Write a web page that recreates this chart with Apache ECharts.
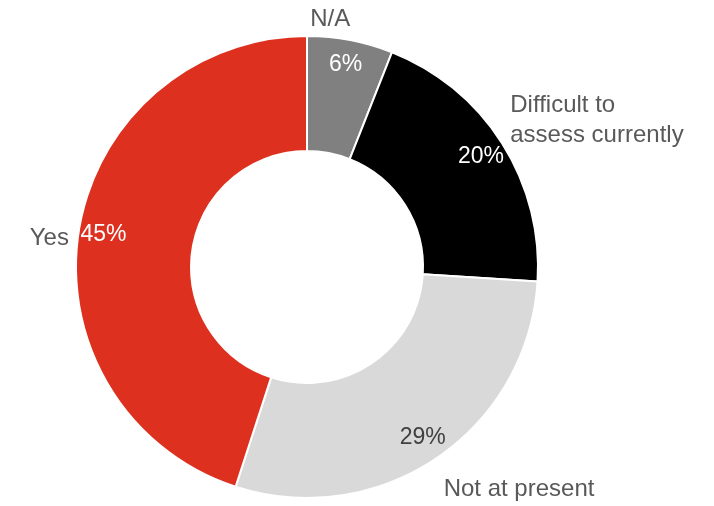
<!DOCTYPE html>
<html>
<head>
<meta charset="utf-8">
<script src="https://cdn.jsdelivr.net/npm/echarts@6/dist/echarts.min.js"></script>
<style>
html,body{margin:0;padding:0;background:#fff;}
#chart{width:714px;height:506px;}
</style>
</head>
<body>
<div id="chart"></div>
<script>
const categories = ['N/A', 'Difficult to\nassess currently', 'Not at present', 'Yes'];
const values = [6, 20, 29, 45];
const sliceColors = ['#808080', '#000000', '#d9d9d9', '#dd301f'];
const pctColors = ['#ffffff', '#ffffff', '#404040', '#ffffff'];
// label nudges (layout only)
const nameNudge = [[-46, -16], [-1, -20], [-1, 27], [0, 8]];

const chart = echarts.init(document.getElementById('chart'));
const font = '"Liberation Sans", Arial, sans-serif';
const center = [307, 267];

chart.setOption({
  animation: false,
  series: [
    {
      type: 'pie',
      center: center,
      radius: [116, 231],
      startAngle: 90,
      clockwise: true,
      avoidLabelOverlap: false,
      itemStyle: { borderColor: '#ffffff', borderWidth: 2 },
      label: {
        show: true,
        position: 'outside',
        formatter: '{b}',
        color: '#595959',
        fontSize: 24,
        fontFamily: font,
        lineHeight: 30,
        distanceToLabelLine: 5
      },
      labelLine: { show: false, length: 5, length2: 0 },
      labelLayout: function (p) {
        const n = nameNudge[p.dataIndex];
        return { dx: n[0], dy: n[1] };
      },
      emphasis: { disabled: true },
      data: categories.map((c, i) => ({
        name: c, value: values[i], itemStyle: { color: sliceColors[i] }
      }))
    },
    {
      type: 'pie',
      center: center,
      radius: [175, 231],
      startAngle: 90,
      clockwise: true,
      silent: true,
      avoidLabelOverlap: false,
      itemStyle: { color: 'rgba(0,0,0,0)', borderWidth: 0 },
      label: {
        show: true,
        position: 'inside',
        formatter: '{c}%',
        fontSize: 23,
        fontFamily: font
      },
      labelLine: { show: false },
      emphasis: { disabled: true },
      data: categories.map((c, i) => ({
        name: c, value: values[i], label: { color: pctColors[i] }
      }))
    }
  ]
});
</script>
</body>
</html>
